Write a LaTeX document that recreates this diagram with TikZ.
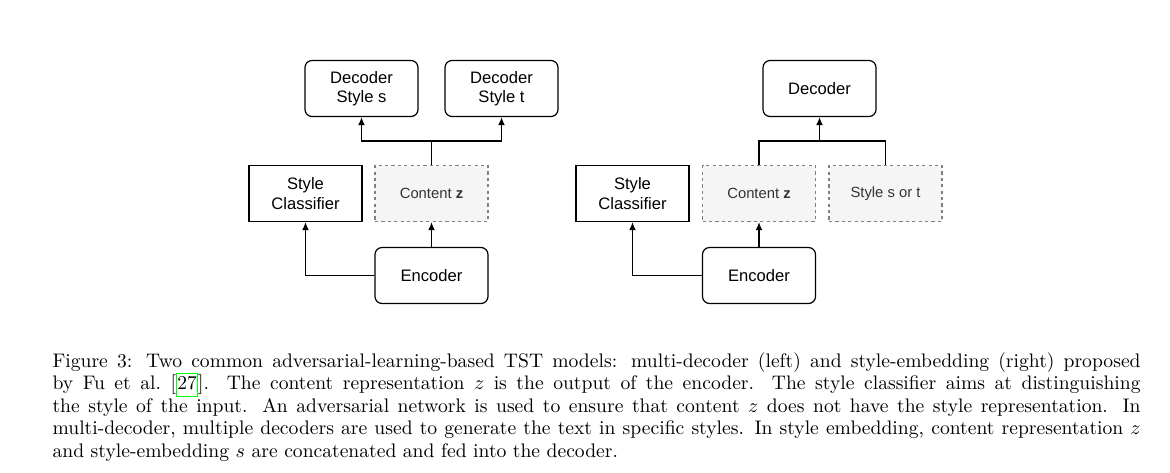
\documentclass[tikz,border=0pt]{standalone}
\usepackage{fontspec}
\usepackage{tikz}
\usetikzlibrary{arrows.meta}
\newfontfamily\boxfont{Liberation Sans}
\definecolor{zfill}{HTML}{F5F5F5}
\definecolor{zline}{HTML}{808080}
\definecolor{ztext}{HTML}{333333}
\tikzset{basic/.style={draw,minimum width=56.5pt,minimum height=28pt,
                       inner sep=1pt,align=center,
                       font=\boxfont\fontsize{8.3}{9.6}\selectfont}}
\tikzset{module/.style={basic,rounded corners=3.5pt}}
\tikzset{latent/.style={basic,draw=zline,fill=zfill,text=ztext,
                        dash pattern=on 1.6pt off 1.6pt,
                        font=\boxfont\fontsize{7.4}{9}\selectfont}}
\newcommand\refbox[1]{{\setlength\fboxsep{0pt}\setlength\fboxrule{0.6pt}%
  \fcolorbox{green}{white}{\strut#1}}}

\begin{document}
\begin{tikzpicture}[x=0.5pt,y=-0.5pt,>={Latex[length=4pt,width=3.4pt]},line width=0.6pt]
  \useasboundingbox (0,0) rectangle (1170,472);

  % Left part: multi-decoder
  \node (decS)  [module] at (361.5,88.5)  {Decoder\\Style s};
  \node (decT)  [module] at (501.5,88.5)  {Decoder\\Style t};
  \node (clsL)  [basic]  at (305.5,193.5) {Style\\Classifier};
  \node (contL) [latent] at (431.5,193.5) {Content \textbf{z}};
  \node (encL)  [module] at (431.5,275.5) {Encoder};
  \coordinate (splitL) at (431.5,141);

  % Right part: style-embedding
  \node (dec)   [module] at (819.5,88.5)  {Decoder};
  \node (clsR)  [basic]  at (632.5,193.5) {Style\\Classifier};
  \node (contR) [latent] at (759,193.5)   {Content \textbf{z}};
  \node (sty)   [latent] at (885.5,193.5) {Style s or t};
  \node (encR)  [module] at (759,275.5)   {Encoder};
  \coordinate (splitR) at (819.5,141);

  % Connections
  \draw[->] (encL) -- (contL);
  \draw[->] (encL.west) -| (clsL.south);
  \draw (contL) -- (splitL);
  \draw[->] (splitL) -| (decS.south);
  \draw[->] (splitL) -| (decT.south);

  \draw[->] (encR) -- (contR);
  \draw[->] (encR.west) -| (clsR.south);
  \draw (contR.north) |- (splitR) -| (sty.north);
  \draw[->] (splitR) -- (dec.south);

  % Caption
  \node (caption) [anchor=base west,inner sep=0pt,text width=544pt,align=justify,
                   font=\fontsize{9.8}{11.25}\selectfont] at (52,367)
  {Figure 3: Two common adversarial-learning-based TST models: multi-decoder (left) and style-embedding (right) proposed\linebreak
  by Fu et al.\ [\refbox{27}]. The content representation $z$ is the output of the encoder. The style classifier aims at distinguishing\linebreak
  the style of the input. An adversarial network is used to ensure that content $z$ does not have the style representation. In\linebreak
  multi-decoder, multiple decoders are used to generate the text in specific styles. In style embedding, content representation $z$\linebreak
  and style-embedding $s$ are concatenated and fed into the decoder.};
\end{tikzpicture}
\end{document}
